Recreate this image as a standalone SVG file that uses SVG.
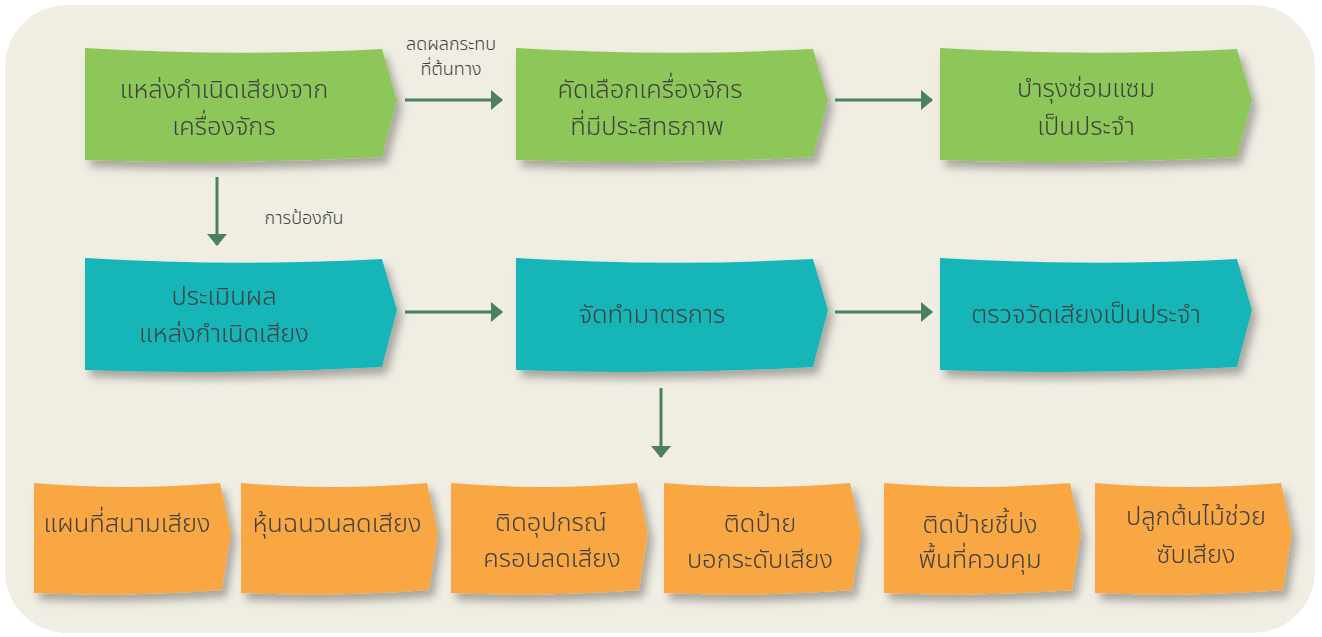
<svg xmlns="http://www.w3.org/2000/svg" xmlns:xlink="http://www.w3.org/1999/xlink" width="1322" height="637" viewBox="0 0 1322 637">
<style>
.t{font-family:"Noto Sans Thai","Noto Sans","DejaVu Sans",sans-serif;font-size:25.5px;font-weight:300;fill:#404040;text-anchor:middle}
.lbl{font-family:"Noto Sans Thai","Noto Sans","DejaVu Sans",sans-serif;font-size:18px;font-weight:300;fill:#404040;text-anchor:middle}
.g{fill:#8dc75a}
.c{fill:#13b6b8}
.o{fill:#f9a743}
.conn{stroke:#4a8060;stroke-width:3;fill:none}
</style>
<defs>
<filter id="sh" x="-10%" y="-10%" width="130%" height="140%">
<feDropShadow dx="5" dy="7" stdDeviation="4" flood-color="#000" flood-opacity="0.3"/>
</filter>
<path id="big" d="M0,0 Q148,9 297,1 L312,52 L297,109 Q148,117 0,112 Z"/>
<path id="small" d="M0,0 Q93,8 186,0 L197,50 L188,107 Q93,114 0,110 Z"/>
<marker id="ah" viewBox="0 0 12 20" refX="11" refY="10" markerWidth="12" markerHeight="20" markerUnits="userSpaceOnUse" orient="auto">
<path d="M0,0 L12,10 L0,20 Z" fill="#4a8060"/>
</marker>
</defs>
<rect x="0" y="0" width="1322" height="637" fill="#ffffff"/>
<rect x="5" y="5" width="1310" height="628" rx="62" ry="62" fill="#f0ede3"/>

<g id="n1" filter="url(#sh)"><use xlink:href="#big" x="85" y="48" class="g"/>
<text class="t" x="224" y="98">แหล่งกำเนิดเสียงจาก</text><text class="t" x="224" y="135">เครื่องจักร</text></g>
<g id="n2" filter="url(#sh)"><use xlink:href="#big" x="516" y="48" class="g"/>
<text class="t" x="650" y="98">คัดเลือกเครื่องจักร</text><text class="t" x="647" y="135">ที่มีประสิทธภาพ</text></g>
<g id="n3" filter="url(#sh)"><use xlink:href="#big" x="940" y="48" class="g"/>
<text class="t" x="1086" y="97">บำรุงซ่อมแซม</text><text class="t" x="1086" y="135">เป็นประจำ</text></g>

<g id="n4" filter="url(#sh)"><use xlink:href="#big" x="85" y="258" class="c"/>
<text class="t" x="224" y="305">ประเมินผล</text><text class="t" x="224" y="342">แหล่งกำเนิดเสียง</text></g>
<g id="n5" filter="url(#sh)"><use xlink:href="#big" x="516" y="258" class="c"/>
<text class="t" x="652" y="323">จัดทำมาตรการ</text></g>
<g id="n6" filter="url(#sh)"><use xlink:href="#big" x="940" y="258" class="c"/>
<text class="t" x="1086" y="323">ตรวจวัดเสียงเป็นประจำ</text></g>

<g id="o1" filter="url(#sh)"><use xlink:href="#small" x="34" y="483" class="o"/>
<text class="t" x="127" y="532">แผนที่สนามเสียง</text></g>
<g id="o2" filter="url(#sh)"><use xlink:href="#small" x="241" y="483" class="o"/>
<text class="t" x="337" y="532">หุ้นฉนวนลดเสียง</text></g>
<g id="o3" filter="url(#sh)"><use xlink:href="#small" x="451" y="483" class="o"/>
<text class="t" x="551" y="531">ติดอุปกรณ์</text><text class="t" x="552" y="567">ครอบลดเสียง</text></g>
<g id="o4" filter="url(#sh)"><use xlink:href="#small" x="664" y="483" class="o"/>
<text class="t" x="760" y="532">ติดป้าย</text><text class="t" x="760" y="568">บอกระดับเสียง</text></g>
<g id="o5" filter="url(#sh)"><use xlink:href="#small" x="884" y="483" class="o"/>
<text class="t" x="980" y="533">ติดป้ายชี้บ่ง</text><text class="t" x="980" y="568">พื้นที่ควบคุม</text></g>
<g id="o6" filter="url(#sh)"><use xlink:href="#small" x="1095" y="483" class="o"/>
<text class="t" x="1196" y="525">ปลูกต้นไม้ช่วย</text><text class="t" x="1196" y="563">ซับเสียง</text></g>

<g id="connectors">
<line class="conn" x1="405" y1="100" x2="502" y2="100" marker-end="url(#ah)"/>
<line class="conn" x1="835" y1="100" x2="932" y2="100" marker-end="url(#ah)"/>
<line class="conn" x1="217" y1="177" x2="217" y2="245" marker-end="url(#ah)"/>
<line class="conn" x1="405" y1="312" x2="502" y2="312" marker-end="url(#ah)"/>
<line class="conn" x1="835" y1="312" x2="932" y2="312" marker-end="url(#ah)"/>
<line class="conn" x1="661" y1="388" x2="661" y2="457" marker-end="url(#ah)"/>
<text class="lbl" x="451" y="50">ลดผลกระทบ</text>
<text class="lbl" x="451" y="75">ที่ต้นทาง</text>
<text class="lbl" x="304" y="224">การป้องกัน</text>
</g>
</svg>
